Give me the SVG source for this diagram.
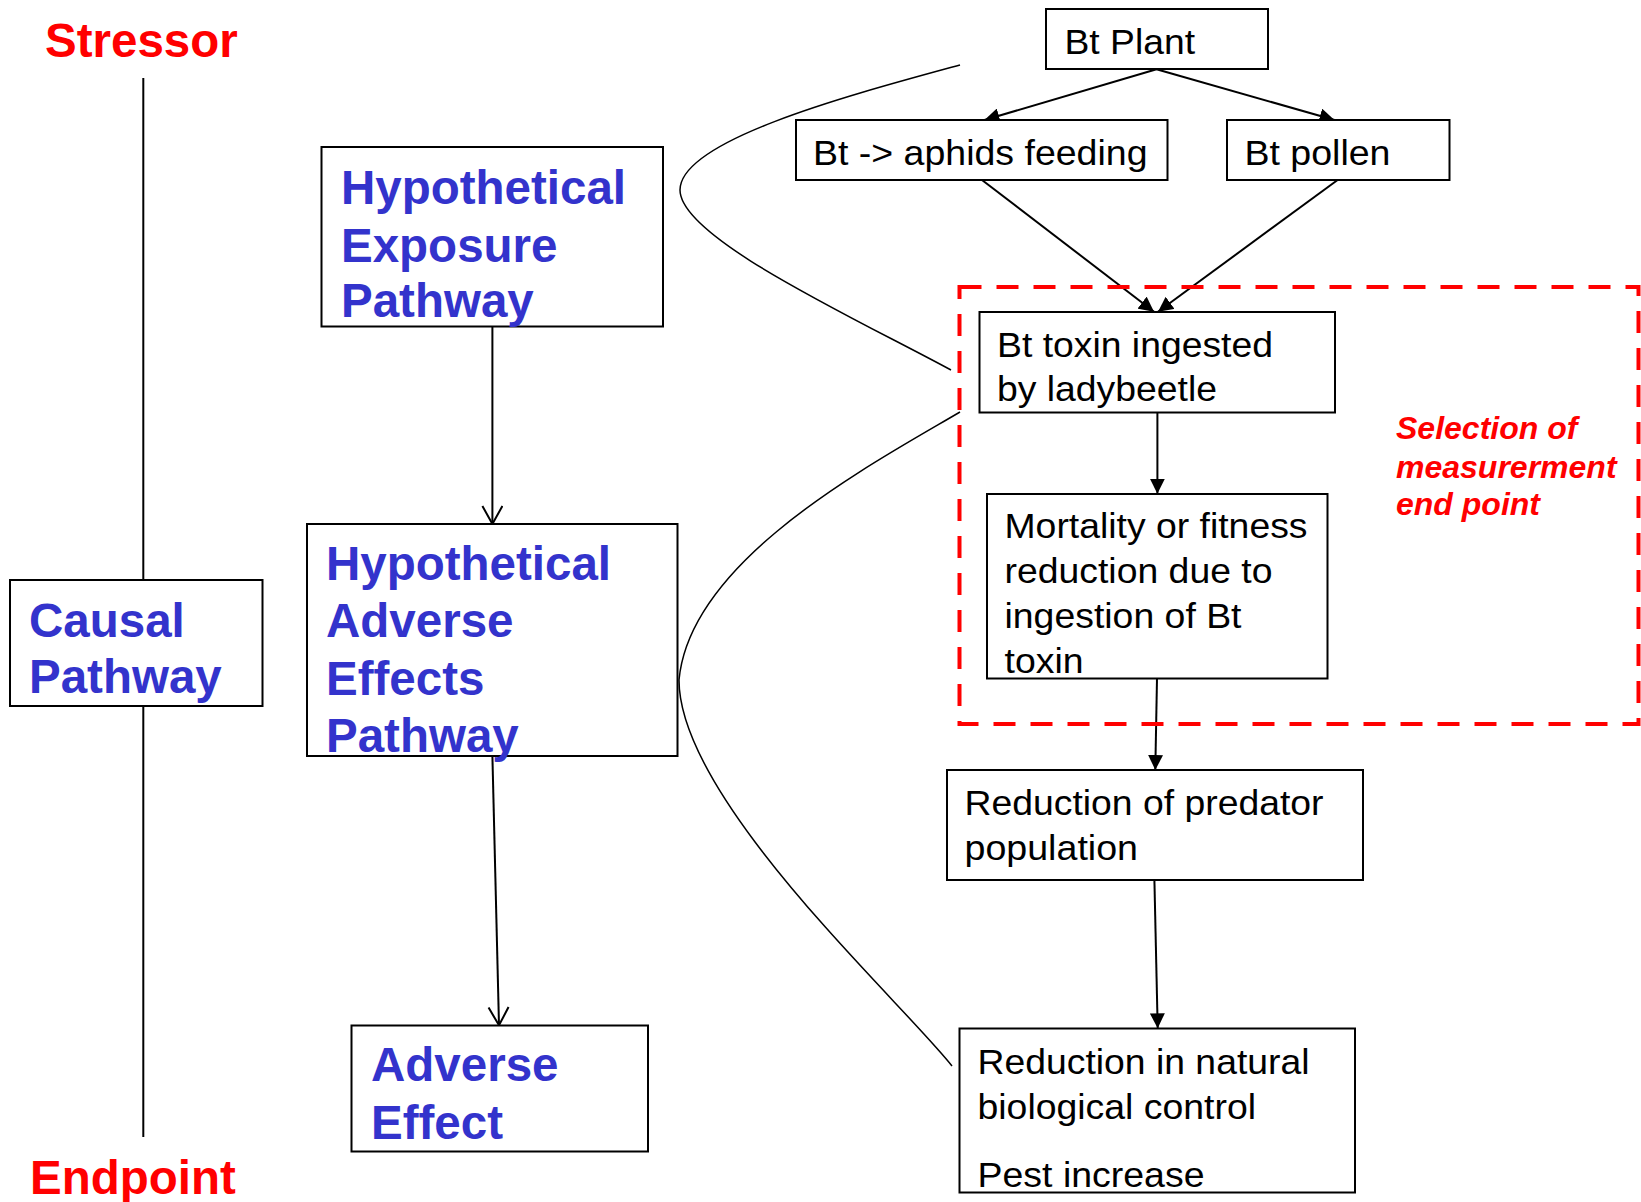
<svg xmlns="http://www.w3.org/2000/svg" width="1641" height="1202" viewBox="0 0 1641 1202">
  <style>
    .box { fill: #ffffff; stroke: #000000; stroke-width: 2; }
    .edge { fill: none; stroke: #000000; stroke-width: 2; }
    .curve { fill: none; stroke: #000000; stroke-width: 1.5; }
    .zone { fill: none; stroke: #ff0000; stroke-width: 4; stroke-dasharray: 22 15; }
    .head { font-family: "Liberation Sans", Arial, sans-serif; font-weight: bold; font-size: 47.5px; fill: #3333cc; }
    .title { font-family: "Liberation Sans", Arial, sans-serif; font-weight: bold; font-size: 47.5px; fill: #ff0000; }
    .note { font-family: "Liberation Sans", Arial, sans-serif; font-weight: bold; font-style: italic; font-size: 32px; fill: #ff0000; }
    .lbl { font-family: "Liberation Sans", Arial, sans-serif; font-size: 35px; fill: #000000; }
  </style>
  <defs>
    <marker id="solid" viewBox="0 0 15 15" refX="15" refY="7.5" markerWidth="15" markerHeight="15" markerUnits="userSpaceOnUse" orient="auto">
      <path d="M0,0 L15,7.5 L0,15 z" fill="#000000"/>
    </marker>
    <marker id="open" viewBox="-1 -1 21 23" refX="18" refY="10" markerWidth="21" markerHeight="23" markerUnits="userSpaceOnUse" orient="auto">
      <path d="M0,0 L18,10 L0,20" fill="none" stroke="#000000" stroke-width="2"/>
    </marker>
  </defs>

  <!-- stressor to endpoint axis -->
  <g id="axis">
    <line x1="143.3" y1="78" x2="143.3" y2="1137" class="edge"/>
    <text x="45" y="57" class="title">Stressor</text>
    <text x="30" y="1194" class="title">Endpoint</text>
  </g>

  <g id="connectors">
    <line x1="1156.5" y1="69.3" x2="984.5" y2="120" class="edge" marker-end="url(#solid)"/>
    <line x1="1156.5" y1="69.3" x2="1334.5" y2="120" class="edge" marker-end="url(#solid)"/>
    <line x1="982" y1="180" x2="1154" y2="311.7" class="edge" marker-end="url(#solid)"/>
    <line x1="1337.6" y1="180" x2="1158" y2="311.7" class="edge" marker-end="url(#solid)"/>
    <line x1="1157.4" y1="412.7" x2="1157.4" y2="493.7" class="edge" marker-end="url(#solid)"/>
    <line x1="1157" y1="678.3" x2="1155.3" y2="770" class="edge" marker-end="url(#solid)"/>
    <line x1="1154.4" y1="880" x2="1157.7" y2="1028.3" class="edge" marker-end="url(#solid)"/>
    <line x1="492.4" y1="326.7" x2="492.4" y2="524" class="edge" marker-end="url(#open)"/>
    <line x1="492.4" y1="756" x2="499" y2="1025.3" class="edge" marker-end="url(#open)"/>
    <!-- brackets grouping the exposure and effect chains -->
    <path d="M960,65 C850,95 680,140 680,190 C680,238 855,318 951,370" class="curve"/>
    <path d="M960,412 C870,465 690,560 679,680 C679,800 900,1000 952,1066" class="curve"/>
  </g>

  <g id="measurement-zone">
    <rect x="959.5" y="287" width="679" height="437" class="zone"/>
    <text class="note"><tspan x="1396" y="439">Selection of</tspan><tspan x="1396" y="478">measurerment</tspan><tspan x="1396" y="515">end point</tspan></text>
  </g>

  <g id="causal-pathway">
    <rect x="10" y="580" width="252.5" height="126" class="box"/>
    <text class="head"><tspan x="29" y="637">Causal</tspan><tspan x="29" y="693">Pathway</tspan></text>
  </g>

  <g id="exposure-pathway">
    <rect x="321.5" y="147" width="341.5" height="179.5" class="box"/>
    <text class="head"><tspan x="341" y="204">Hypothetical</tspan><tspan x="341" y="261.5">Exposure</tspan><tspan x="341" y="317">Pathway</tspan></text>
  </g>

  <g id="adverse-effects-pathway">
    <rect x="307" y="524" width="370.5" height="232" class="box"/>
    <text class="head"><tspan x="326" y="580">Hypothetical</tspan><tspan x="326" y="637">Adverse</tspan><tspan x="326" y="695">Effects</tspan><tspan x="326" y="752">Pathway</tspan></text>
  </g>

  <g id="adverse-effect">
    <rect x="351.5" y="1025.5" width="296.5" height="126" class="box"/>
    <text class="head"><tspan x="371" y="1081">Adverse</tspan><tspan x="371" y="1139">Effect</tspan></text>
  </g>

  <g id="bt-plant">
    <rect x="1046" y="9" width="222" height="60" class="box"/>
    <text x="1064.5" y="54" class="lbl" textLength="130.5" lengthAdjust="spacingAndGlyphs">Bt Plant</text>
  </g>

  <g id="aphids-feeding">
    <rect x="796" y="120" width="371.5" height="60" class="box"/>
    <text x="813" y="165" class="lbl" textLength="334.5" lengthAdjust="spacingAndGlyphs">Bt -&gt; aphids feeding</text>
  </g>

  <g id="bt-pollen">
    <rect x="1227" y="120" width="222.5" height="60" class="box"/>
    <text x="1244.5" y="165" class="lbl" textLength="146" lengthAdjust="spacingAndGlyphs">Bt pollen</text>
  </g>

  <g id="toxin-ingested">
    <rect x="979.5" y="312" width="355.5" height="100.5" class="box"/>
    <text x="997" y="357" class="lbl" textLength="276" lengthAdjust="spacingAndGlyphs">Bt toxin ingested</text>
    <text x="997" y="400.5" class="lbl" textLength="220" lengthAdjust="spacingAndGlyphs">by ladybeetle</text>
  </g>

  <g id="mortality">
    <rect x="987" y="494" width="340.5" height="184.5" class="box"/>
    <text x="1004.5" y="538" class="lbl" textLength="303" lengthAdjust="spacingAndGlyphs">Mortality or fitness</text>
    <text x="1004.5" y="583" class="lbl" textLength="268" lengthAdjust="spacingAndGlyphs">reduction due to</text>
    <text x="1004.5" y="628" class="lbl" textLength="237" lengthAdjust="spacingAndGlyphs">ingestion of Bt</text>
    <text x="1004.5" y="673" class="lbl" textLength="79" lengthAdjust="spacingAndGlyphs">toxin</text>
  </g>

  <g id="predator-reduction">
    <rect x="947" y="770" width="416" height="110" class="box"/>
    <text x="964.5" y="815" class="lbl" textLength="359" lengthAdjust="spacingAndGlyphs">Reduction of predator</text>
    <text x="964.5" y="860" class="lbl" textLength="173.5" lengthAdjust="spacingAndGlyphs">population</text>
  </g>

  <g id="biocontrol-reduction">
    <rect x="959.5" y="1028.5" width="395.5" height="164" class="box"/>
    <text x="977.5" y="1074" class="lbl" textLength="332" lengthAdjust="spacingAndGlyphs">Reduction in natural</text>
    <text x="977.5" y="1119" class="lbl" textLength="278.5" lengthAdjust="spacingAndGlyphs">biological control</text>
    <text x="977.5" y="1186.5" class="lbl" textLength="227" lengthAdjust="spacingAndGlyphs">Pest increase</text>
  </g>
</svg>
